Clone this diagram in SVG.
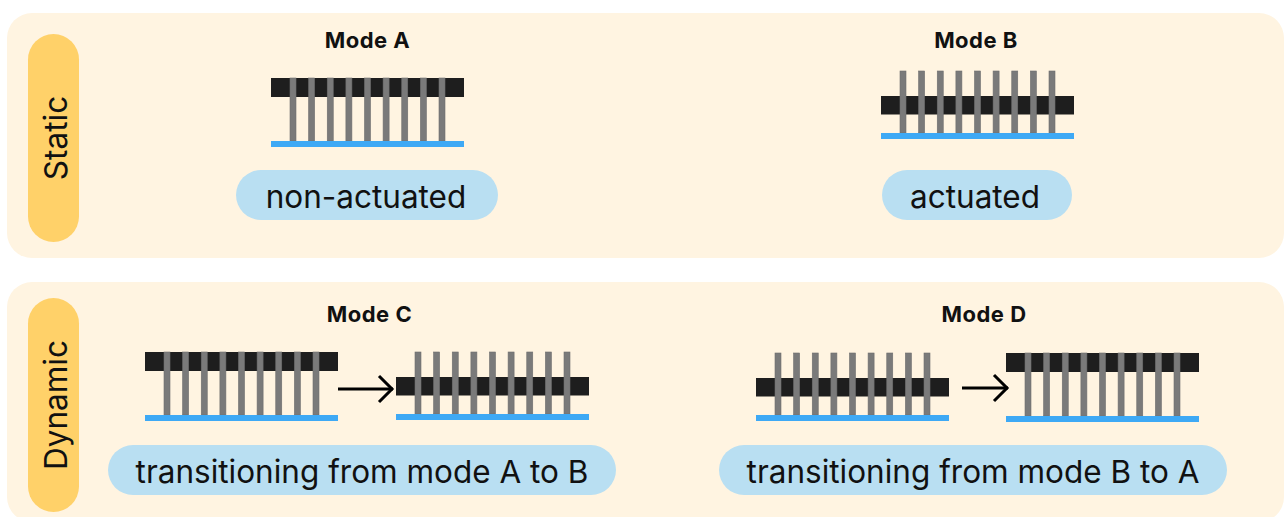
<svg xmlns="http://www.w3.org/2000/svg" width="1284" height="517" viewBox="0 0 1284 517">
  <style>
    .panel { fill: #FFF4E1; }
    .tag { fill: #FFD169; }
    .tag-text { font-family: Inter, "Liberation Sans", sans-serif; font-size: 31.5px; fill: #111; text-anchor: middle; }
    .title { font-family: Inter, "Liberation Sans", sans-serif; font-size: 22px; letter-spacing: 0.5px; font-weight: 700; fill: #111; text-anchor: middle; }
    .label { fill: #B9DFF2; }
    .label-text { font-family: Inter, "Liberation Sans", sans-serif; font-size: 31.5px; fill: #111; text-anchor: middle; }
    .bar { fill: #1E1E1E; }
    .pillar { fill: #7A7A7A; stroke: #6E6E6E; stroke-width: 0.6; }
    .base { fill: #3EA9F5; }
    .arrow { stroke: #000; stroke-width: 3; fill: none; }
  </style>
  <defs>
    <marker id="chevron" markerUnits="userSpaceOnUse" markerWidth="20" markerHeight="32" refX="16" refY="15" orient="auto">
      <path d="M2,2 L15,15 L2,28" fill="none" stroke="#000" stroke-width="3"/>
    </marker>
    <!-- pillars raised: bar sits on top, pillars hang down to the base -->
    <g id="stateA">
      <rect class="bar" x="0" y="0" width="193" height="19"/>
      <rect class="pillar" x="19" y="0" width="6" height="63"/>
      <rect class="pillar" x="37.6" y="0" width="6" height="63"/>
      <rect class="pillar" x="56.25" y="0" width="6" height="63"/>
      <rect class="pillar" x="74.9" y="0" width="6" height="63"/>
      <rect class="pillar" x="93.5" y="0" width="6" height="63"/>
      <rect class="pillar" x="112.1" y="0" width="6" height="63"/>
      <rect class="pillar" x="130.75" y="0" width="6" height="63"/>
      <rect class="pillar" x="149.4" y="0" width="6" height="63"/>
      <rect class="pillar" x="168" y="0" width="6" height="63"/>
      <rect class="base" x="0" y="63" width="193" height="6"/>
    </g>
    <!-- pillars pushed through: bar lowered, pillar tips stick out above -->
    <g id="stateB">
      <rect class="bar" x="0" y="25" width="193" height="18.5"/>
      <rect class="pillar" x="19" y="0" width="6" height="62"/>
      <rect class="pillar" x="37.6" y="0" width="6" height="62"/>
      <rect class="pillar" x="56.25" y="0" width="6" height="62"/>
      <rect class="pillar" x="74.9" y="0" width="6" height="62"/>
      <rect class="pillar" x="93.5" y="0" width="6" height="62"/>
      <rect class="pillar" x="112.1" y="0" width="6" height="62"/>
      <rect class="pillar" x="130.75" y="0" width="6" height="62"/>
      <rect class="pillar" x="149.4" y="0" width="6" height="62"/>
      <rect class="pillar" x="168" y="0" width="6" height="62"/>
      <rect class="base" x="0" y="62" width="193" height="6"/>
    </g>
  </defs>

  <rect width="1284" height="517" fill="#FFFFFF"/>

  <!-- Static section -->
  <g id="panel-static">
    <rect class="panel" x="7" y="13" width="1277" height="245" rx="25"/>
    <rect class="tag" x="28" y="34" width="51" height="208" rx="25.5"/>
    <text class="tag-text" transform="translate(66.5,138) rotate(-90)">Static</text>
  </g>

  <g id="mode-a">
    <text class="title" x="367.5" y="48">Mode A</text>
    <use href="#stateA" x="271" y="78"/>
    <rect class="label" x="236" y="170" width="262" height="50" rx="25"/>
    <text class="label-text" x="366" y="207.5">non-actuated</text>
  </g>

  <g id="mode-b">
    <text class="title" x="976" y="48">Mode B</text>
    <use href="#stateB" x="881" y="71"/>
    <rect class="label" x="882" y="170" width="190" height="50" rx="25"/>
    <text class="label-text" x="975" y="207.5">actuated</text>
  </g>

  <!-- Dynamic section -->
  <g id="panel-dynamic">
    <rect class="panel" x="7" y="282" width="1277" height="240" rx="25"/>
    <rect class="tag" x="28" y="298" width="51" height="214" rx="25.5"/>
    <text class="tag-text" transform="translate(66.5,405) rotate(-90)">Dynamic</text>
  </g>

  <g id="mode-c">
    <text class="title" x="369.5" y="321.5">Mode C</text>
    <use href="#stateA" x="145" y="352"/>
    <use href="#stateB" x="396" y="352"/>
    <rect class="label" x="108" y="445" width="508" height="50" rx="25"/>
    <text class="label-text" x="362" y="482.5">transitioning from mode A to B</text>
  </g>

  <g id="mode-d">
    <text class="title" x="984" y="321.5">Mode D</text>
    <use href="#stateB" x="756" y="353"/>
    <use href="#stateA" x="1006" y="353"/>
    <rect class="label" x="719" y="445" width="508" height="50" rx="25"/>
    <text class="label-text" x="973" y="482.5">transitioning from mode B to A</text>
  </g>

  <g id="connectors">
    <line class="arrow" x1="338" y1="389" x2="393" y2="389" marker-end="url(#chevron)"/>
    <line class="arrow" x1="962" y1="388" x2="1008" y2="388" marker-end="url(#chevron)"/>
  </g>
</svg>
